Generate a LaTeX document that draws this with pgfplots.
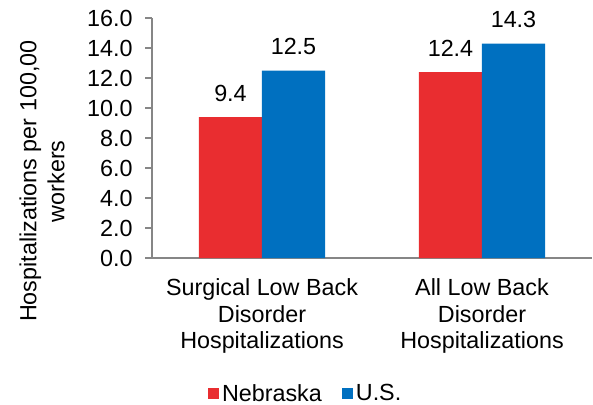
\documentclass[border=0pt]{standalone}
\usepackage{fontspec}
\setmainfont{Liberation Sans}
\usepackage{pgfplots}
\pgfplotsset{compat=1.18}
\definecolor{nebred}{RGB}{233,45,48}
\definecolor{usblue}{RGB}{0,112,192}
\definecolor{axgray}{RGB}{134,134,134}

\begin{document}
\begin{tikzpicture}
\begin{axis}[
  scale only axis,
  width=330pt, height=180pt,
  font=\fontsize{17.5}{20}\selectfont,
  ybar=0pt, bar width=0.2864,
  xmin=-0.5, xmax=1.5,
  ymin=0, ymax=16,
  ytick={0,2,...,16},
  yticklabel style={/pgf/number format/.cd, fixed, fixed zerofill, precision=1, /tikz/.cd, xshift=-6pt},
  /pgf/number format/assume math mode=true,
  tick label style={font=\fontsize{17.5}{20}\selectfont},
  xtick={0,1},
  xticklabels={Surgical Low Back\\Disorder\\Hospitalizations, All Low Back\\Disorder\\Hospitalizations},
  xticklabel style={align=center, yshift=-7pt},
  major x tick style={draw=none},
  extra x ticks={-0.5,0.5,1.5},
  extra x tick labels={},
  extra x tick style={tick style={draw=axgray, line width=1pt}, major tick length=5pt},
  axis x line*=bottom, axis y line*=left,
  axis line style={draw=axgray, line width=1pt, -},
  y tick style={draw=axgray, line width=1pt},
  tick align=outside, major tick length=5pt,
  ylabel={Hospitalizations per 100,00\\workers},
  ylabel style={at={(ticklabel cs:0.32)}, align=center, font=\fontsize{17.5}{21}\selectfont, yshift=10pt},
  nodes near coords,
  nodes near coords style={/pgf/number format/.cd, fixed, fixed zerofill, precision=1, /tikz/.cd, anchor=south, yshift=8pt, text=black, font=\fontsize{17.5}{20}\selectfont},
  legend style={at={(0.35,-0.565)}, anchor=center, draw=none, legend columns=-1,
    /tikz/every even column/.append style={column sep=13pt}, font=\fontsize{17.5}{20}\selectfont},
  legend image code/.code={\fill[#1] (0pt,-4pt) rectangle (8.5pt,4.5pt);},
]
  \addplot[fill=nebred, draw=none] coordinates {(0,9.4) (1,12.4)};
  \addplot[fill=usblue, draw=none] coordinates {(0,12.5) (1,14.3)};
  \legend{Nebraska, U.S.}
\end{axis}
\pgfresetboundingbox
\path (-114pt,-109.5pt) rectangle (330.75pt,193.5pt);
\end{tikzpicture}
\end{document}
